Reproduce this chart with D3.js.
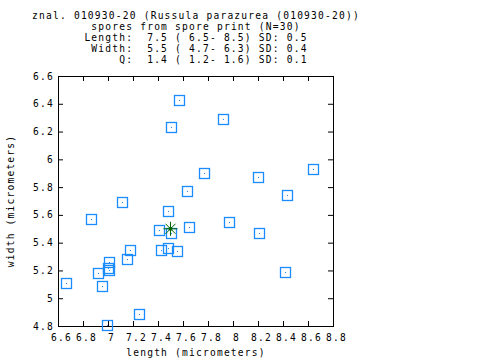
<!DOCTYPE html>
<html><head><meta charset="utf-8">
<script src="https://cdn.jsdelivr.net/npm/d3@7"></script>
<style>
body{margin:0;background:#fff}
text{font-family:"DejaVu Sans Mono",monospace;font-size:9.6px;letter-spacing:1.2px;white-space:pre;fill:#000}
</style>
</head><body><svg id="c" width="480" height="360"></svg>
<script>
const titleLines = [
  "znal. 010930-20 (Russula parazurea (010930-20))",
  "spores from spore print (N=30)",
  "Length:  7.5 ( 6.5- 8.5) SD: 0.5",
  " Width:  5.5 ( 4.7- 6.3) SD: 0.4",
  "     Q:  1.4 ( 1.2- 1.6) SD: 0.1"
];
const lengths = [6.66,6.86,7.11,6.92,6.95,7.00,7.01,7.01,7.15,7.18,7.25,6.99,7.41,7.42,7.48,7.48,7.50,7.65,7.55,7.57,7.50,7.92,7.77,7.63,8.20,8.43,8.64,8.21,8.42,7.97];
const widths  = [5.11,5.57,5.69,5.18,5.09,5.22,5.26,5.20,5.28,5.35,4.89,4.81,5.49,5.35,5.63,5.36,5.47,5.51,5.34,6.43,6.23,6.29,5.90,5.77,5.87,5.74,5.93,5.47,5.19,5.55];
const meanLength = [7.5];
const meanWidth = [5.5];
const xTickValues = [6.6,6.8,7,7.2,7.4,7.6,7.8,8,8.2,8.4,8.6,8.8];
const xTickLabels = ["6.6","6.8","7","7.2","7.4","7.6","7.8","8","8.2","8.4","8.6","8.8"];
const yTickValues = [4.8,5,5.2,5.4,5.6,5.8,6,6.2,6.4,6.6];
const yTickLabels = ["4.8","5","5.2","5.4","5.6","5.8","6","6.2","6.4","6.6"];
const xTitle = "length (micrometers)";
const yTitle = "width (micrometers)";

const svg = d3.select("#c");
const L = 58, R = 333, T = 76, B = 326;
const x = d3.scaleLinear().domain([6.6, 8.8]).range([L, R]);
const y = d3.scaleLinear().domain([4.8, 6.6]).range([B, T]);
const blue = "#1a8cff";

// title
svg.append("g").selectAll("text").data(titleLines).join("text")
  .attr("x", 196).attr("y", (d, i) => 19 + i * 11)
  .attr("text-anchor", "middle").text(d => d);

const xl = new Map(xTickValues.map((v, i) => [v, xTickLabels[i]]));
const yl = new Map(yTickValues.map((v, i) => [v, yTickLabels[i]]));

function styleAxis(g) {
  g.attr("font-size", null).attr("font-family", null);
  g.select(".domain").remove();
  g.selectAll(".tick line").attr("stroke", "#000").attr("stroke-width", 1);
}
const gb = svg.append("g").attr("transform", `translate(0,${B})`)
  .call(d3.axisBottom(x).tickValues(xTickValues).tickFormat(v => xl.get(v)).tickSizeInner(-5).tickSizeOuter(0).tickPadding(8))
  .call(styleAxis);
gb.selectAll(".tick text").attr("dx", 3);
svg.append("g").attr("transform", `translate(0,${T})`)
  .call(d3.axisTop(x).tickValues(xTickValues).tickFormat("").tickSizeInner(-5).tickSizeOuter(0))
  .call(styleAxis);
svg.append("g").attr("transform", `translate(${L},0)`)
  .call(d3.axisLeft(y).tickValues(yTickValues).tickFormat(v => yl.get(v)).tickSizeInner(-5).tickSizeOuter(0).tickPadding(4))
  .call(styleAxis);
svg.append("g").attr("transform", `translate(${R},0)`)
  .call(d3.axisRight(y).tickValues(yTickValues).tickFormat("").tickSizeInner(-5).tickSizeOuter(0))
  .call(styleAxis);

// frame
svg.append("rect").attr("x", L + 0.5).attr("y", T + 0.5).attr("width", R - L).attr("height", B - T)
  .attr("fill", "none").attr("stroke", "#000").attr("stroke-width", 1);

// axis titles
svg.append("text").attr("x", 196).attr("y", 356).attr("text-anchor", "middle").text(xTitle);
svg.append("text").attr("transform", "translate(14,201) rotate(-90)").attr("text-anchor", "middle").text(yTitle);

// points
const pts = lengths.map((l, i) => ({l, w: widths[i]}));
const gp = svg.append("g");
gp.selectAll("rect.sq").data(pts).join("rect").attr("class", "sq")
  .attr("x", d => Math.round(x(d.l)) - 4.5).attr("y", d => Math.round(y(d.w)) - 4.5)
  .attr("width", 10).attr("height", 10)
  .attr("fill", "none").attr("stroke", blue).attr("stroke-width", 1.3);
gp.selectAll("rect.dot").data(pts).join("rect").attr("class", "dot")
  .attr("x", d => Math.round(x(d.l))).attr("y", d => Math.round(y(d.w)))
  .attr("width", 1).attr("height", 1).attr("fill", blue);

// mean star
const green = "#006400";
const mg = svg.append("g").selectAll("g").data(meanLength.map((l, i) => ({l, w: meanWidth[i]}))).join("g")
  .attr("transform", d => `translate(${x(d.l)},${y(d.w)})`);
[[-7,0,7,0],[0,-7,0,7],[-5,-5,5,5],[-5,5,5,-5]].forEach(s => {
  mg.append("line").attr("x1", s[0]).attr("y1", s[1]).attr("x2", s[2]).attr("y2", s[3])
    .attr("stroke", green).attr("stroke-width", 1);
});
mg.append("circle").attr("r", 2).attr("fill", green);
</script>
</body></html>
